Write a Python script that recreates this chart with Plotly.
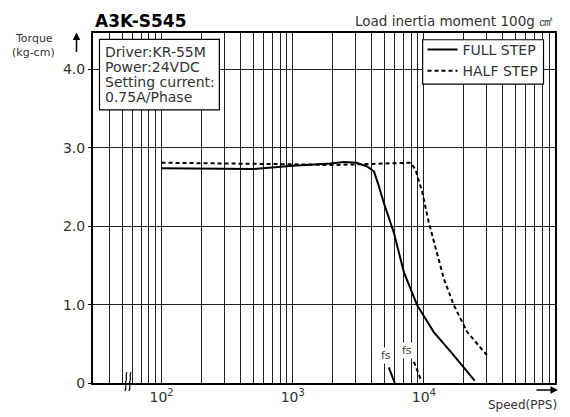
import math
import plotly.graph_objects as go

# ---------------- data ----------------
speed_full = [100, 500, 1000, 1950, 2450, 3070, 3720, 4160, 4440, 4950, 5900, 7050, 8900, 11900, 16000, 24400]
torque_full = [2.74, 2.73, 2.77, 2.80, 2.82, 2.81, 2.76, 2.70, 2.56, 2.30, 1.92, 1.41, 0.99, 0.65, 0.40, 0.03]

speed_half = [100, 500, 1000, 2000, 3000, 5000, 7480, 7920, 8650, 9730, 10900, 12300, 14200, 16950, 21400, 30800]
torque_half = [2.81, 2.80, 2.79, 2.78, 2.79, 2.80, 2.81, 2.81, 2.72, 2.43, 2.05, 1.71, 1.33, 0.99, 0.65, 0.34]

fs_full_speed = [5400, 6000]
fs_full_torque = [0.20, 0.0]
fs_half_speed = [8400, 9600]
fs_half_torque = [0.27, 0.02]

fs_label_speed = [5100, 7500]
fs_label_torque = [0.35, 0.41]

x_min, x_max = 30, 100000
y_max = 4.465
decades = [10, 100, 1000, 10000]
x_label_vals = [100, 1000, 10000]
x_label_text = ["10<sup>2</sup>", "10<sup>3</sup>", "10<sup>4</sup>"]
y_tick_vals = [0, 1, 2, 3, 4]
y_tick_text = ["0", "1.0", "2.0", "3.0", "4.0"]

title_text = "A3K-S545"
load_text = "Load inertia moment 100g ㎠"
info_lines = ["Driver:KR-55M", "Power:24VDC", "Setting current:", "0.75A/Phase"]

# ---------------- layout geometry ----------------
W, H = 570, 417
L, R, T, B = 92.5, 15, 32.5, 32
PW = W - L - R
PH = H - T - B
FONT = "DejaVu Sans"


def px(xp):
    return (xp - L) / PW


def py(yp):
    return (H - B - yp) / PH


grid_vals = [m * d for d in decades for m in range(1, 10) if x_min <= m * d <= x_max] + [x_max]
tick_text = [x_label_text[x_label_vals.index(v)] if v in x_label_vals else "" for v in grid_vals]

fig = go.Figure()
fig.add_trace(go.Scatter(x=speed_full, y=torque_full, mode="lines", name="FULL STEP",
                         legendgroup="a", line=dict(color="black", width=2)))
fig.add_trace(go.Scatter(x=speed_half, y=torque_half, mode="lines", name="HALF STEP",
                         legendgroup="b", line=dict(color="black", width=2, dash="4px,3px")))
fig.add_trace(go.Scatter(x=fs_full_speed, y=fs_full_torque, mode="lines", showlegend=False,
                         line=dict(color="black", width=2)))
fig.add_trace(go.Scatter(x=fs_half_speed, y=fs_half_torque, mode="lines", showlegend=False,
                         line=dict(color="black", width=2, dash="4px,3px")))

annotations = []
for xs, ys in zip(fs_label_speed, fs_label_torque):
    annotations.append(dict(x=math.log10(xs), y=ys, xref="x", yref="y", text="fs", showarrow=False,
                            bgcolor="white", borderpad=1,
                            font=dict(family=FONT, size=11, color="#444")))

annotations += [
    dict(x=0, y=py(20), xref="paper", yref="paper", xanchor="left", yanchor="middle",
         text="<b>" + title_text + "</b>", showarrow=False,
         font=dict(family=FONT, size=17, color="black")),
    dict(x=1.0, y=py(20), xref="paper", yref="paper", xanchor="right", yanchor="middle",
         text=load_text, showarrow=False, font=dict(family=FONT, size=13.5, color="#333")),
    dict(x=px(33), y=py(38), xref="paper", yref="paper", xanchor="center", yanchor="middle",
         text="Torque", showarrow=False, font=dict(family=FONT, size=11, color="#333")),
    dict(x=px(33), y=py(52), xref="paper", yref="paper", xanchor="center", yanchor="middle",
         text="(kg-cm)", showarrow=False, font=dict(family=FONT, size=11, color="#333")),
    dict(x=px(522), y=py(407), xref="paper", yref="paper", xanchor="center", yanchor="middle",
         text="Speed(PPS)", showarrow=False, font=dict(family=FONT, size=12, color="#333")),
    # axis arrows
    dict(x=px(76), y=py(32), xref="paper", yref="paper", ax=0, ay=21, text="", showarrow=True,
         arrowhead=2, arrowsize=1, arrowwidth=1.5, arrowcolor="black"),
    dict(x=px(558), y=py(392), xref="paper", yref="paper", ax=-23, ay=0, text="", showarrow=True,
         arrowhead=2, arrowsize=1, arrowwidth=1.5, arrowcolor="black"),
]

for i, line in enumerate(info_lines):
    annotations.append(dict(x=px(103), y=py(52 + 15 * i), xref="paper", yref="paper",
                            xanchor="left", yanchor="middle", text=line, showarrow=False,
                            font=dict(family=FONT, size=14, color="#333")))

shapes = [
    # info box
    dict(type="rect", xref="paper", yref="paper", x0=px(99), x1=px(219), y0=py(110), y1=py(39),
         line=dict(color="black", width=1.2), fillcolor="white", layer="above"),
    # legend frame
    dict(type="rect", xref="paper", yref="paper", x0=px(422.5), x1=px(543.5), y0=py(84), y1=py(39.3),
         line=dict(color="black", width=1.2), fillcolor="white", layer="above"),
]
# axis break marks
for dx in (0, 4):
    x0 = 124.5 + dx
    shapes.append(dict(
        type="path", xref="paper", yref="paper", layer="above",
        path=("M {:.5f},{:.5f} C {:.5f},{:.5f} {:.5f},{:.5f} {:.5f},{:.5f} "
              "C {:.5f},{:.5f} {:.5f},{:.5f} {:.5f},{:.5f}").format(
            px(x0), py(393),
            px(x0 + 2.5), py(389), px(x0 - 0.5), py(386), px(x0 + 1), py(383),
            px(x0 + 2.5), py(380), px(x0 + 0), py(377), px(x0 + 2), py(374)),
        line=dict(color="black", width=1.2)))

fig.update_layout(
    width=W, height=H,
    margin=dict(l=L, r=R, t=T, b=B),
    paper_bgcolor="white", plot_bgcolor="white",
    font=dict(family=FONT, size=14, color="#333"),
    showlegend=True,
    legend=dict(x=px(543.5), y=py(33.5), xanchor="right", yanchor="top",
                bgcolor="rgba(0,0,0,0)", borderwidth=0,
                font=dict(family=FONT, size=14, color="#333"),
                itemwidth=30, tracegroupgap=6.5, traceorder="normal"),
    annotations=annotations,
    shapes=shapes,
)
fig.update_xaxes(type="log", range=[math.log10(x_min), math.log10(x_max)],
                 tickmode="array", tickvals=grid_vals, ticktext=tick_text,
                 showgrid=True, gridcolor="#222", gridwidth=1,
                 showline=True, linecolor="black", linewidth=2, mirror=True,
                 ticks="", zeroline=False,
                 tickfont=dict(family=FONT, size=14, color="#333"))
fig.update_yaxes(range=[0, y_max], tickmode="array", tickvals=y_tick_vals, ticktext=y_tick_text,
                 showgrid=True, gridcolor="#222", gridwidth=1,
                 showline=True, linecolor="black", linewidth=2, mirror=True,
                 ticks="outside", ticklen=3, tickcolor="black", zeroline=False,
                 tickfont=dict(family=FONT, size=14, color="#333"))

fig.write_html("out.html", config={"displayModeBar": False},
               post_script="document.body.style.margin='0';document.body.style.overflow='hidden';")
